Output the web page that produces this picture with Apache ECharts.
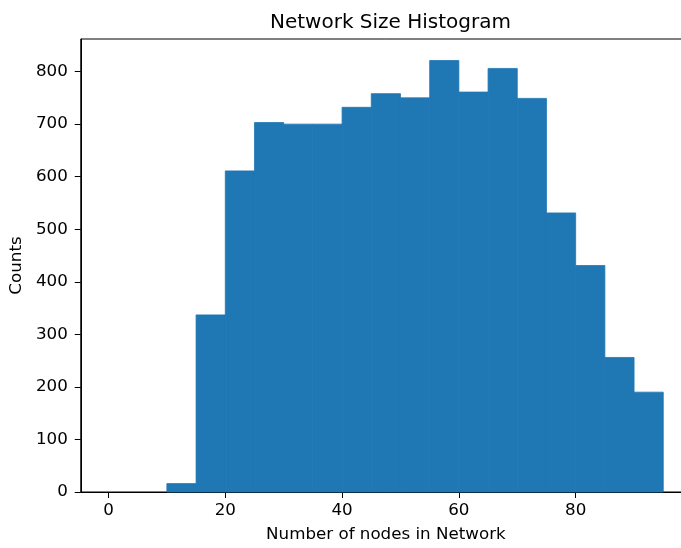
<!DOCTYPE html>
<html>
<head>
<meta charset="utf-8">
<script src="https://cdn.jsdelivr.net/npm/echarts@6/dist/echarts.min.js"></script>
<style>
  html, body { margin: 0; padding: 0; overflow: hidden; background: #fff; }
  #chart { width: 700px; height: 548px; }
</style>
</head>
<body>
<div id="chart"></div>
<script>
// histogram bins (left edges, width 5) and counts
const binStarts = [0, 5, 10, 15, 20, 25, 30, 35, 40, 45, 50, 55, 60, 65, 70, 75, 80, 85, 90]
const binWidth = 5
const counts = [0, 0, 16, 337, 611, 703, 700, 700, 732, 758, 750, 821, 761, 806, 749, 531, 431, 256, 190]
const xTicks = [0, 20, 40, 60, 80]
const yTicks = [0, 100, 200, 300, 400, 500, 600, 700, 800]

const font = 'DejaVu Sans'
const chart = echarts.init(document.getElementById('chart'))

const bins = binStarts.map((s, i) => [s, s + binWidth, counts[i]])

chart.setOption({
  animation: false,
  title: {
    text: 'Network Size Histogram',
    left: 385.5,
    top: 8,
    textAlign: 'center',
    textStyle: { fontFamily: font, fontSize: 20, fontWeight: 'normal', color: '#000' }
  },
  grid: {
    left: 80,
    top: 39,
    width: 611,
    height: 456.5,
    show: true,
    borderColor: '#000',
    borderWidth: 1,
    backgroundColor: 'transparent'
  },
  xAxis: {
    type: 'value',
    min: -4.75,
    max: 99.75,
    name: 'Number of nodes in Network',
    nameLocation: 'middle',
    nameGap: 34,
    nameTextStyle: { fontFamily: font, fontSize: 16.7, color: '#000' },
    axisLine: { show: true, onZero: false, lineStyle: { color: '#000', width: 1 } },
    axisTick: { show: true, customValues: xTicks, length: 6, lineStyle: { color: '#000' } },
    axisLabel: { customValues: xTicks, margin: 10, fontFamily: font, fontSize: 16.7, color: '#000' },
    splitLine: { show: false }
  },
  yAxis: {
    type: 'value',
    min: 0,
    max: 862,
    name: 'Counts',
    nameLocation: 'middle',
    nameRotate: 90,
    nameGap: 47,
    nameTextStyle: { fontFamily: font, fontSize: 16.7, color: '#000' },
    axisLine: { show: true, onZero: false, lineStyle: { color: '#000', width: 1 } },
    axisTick: { show: true, customValues: yTicks, length: 6, lineStyle: { color: '#000' } },
    axisLabel: { customValues: yTicks, margin: 13, fontFamily: font, fontSize: 16.7, color: '#000' },
    splitLine: { show: false }
  },
  series: [{
    type: 'custom',
    data: bins,
    encode: { x: [0, 1], y: 2 },
    renderItem: function (params, api) {
      if (!api.value(2)) return null
      const p0 = api.coord([api.value(0), 0])
      const p1 = api.coord([api.value(1), api.value(2)])
      return {
        type: 'rect',
        shape: { x: p0[0], y: p1[1], width: p1[0] - p0[0], height: p0[1] - p1[1] },
        style: { fill: '#1f77b4', stroke: '#1f77b4', lineWidth: 0.8 }
      }
    }
  }]
})
</script>
</body>
</html>
